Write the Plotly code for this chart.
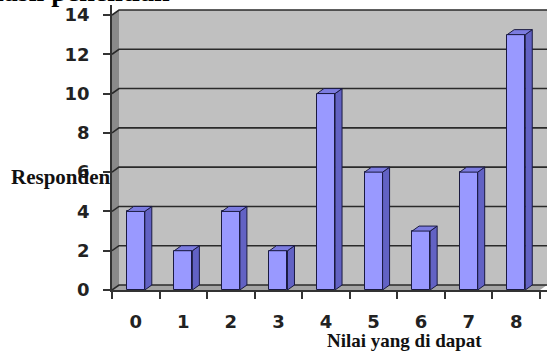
import plotly.graph_objects as go

# ---- data ----
categories = ["0", "1", "2", "3", "4", "5", "6", "7", "8"]
responden = [4, 2, 4, 2, 10, 6, 3, 6, 13]
y_ticks = [0, 2, 4, 6, 8, 10, 12, 14]
title_text = "Hasil penelitian"
y_title = "Responden"
x_title = "Nilai yang di dapat"

# ---- geometry (pixel-based depth converted to data units) ----
W, H = 547, 354
ML, MR, MT, MB = 112, 0, 5, 64
px_per_y = (290 - 15) / 14.0
plot_h = H - MT - MB
plot_w = W - ML - MR
y_max = plot_h / px_per_y
n = len(categories)
px_per_x = (plot_w - 7) / n
dxu = 7 / px_per_x
dyu = 5 / px_per_y
x_lo, x_hi = -0.5, n - 0.5 + dxu
bw = 0.38

xs = list(range(n))

fig = go.Figure()

shapes = []
# back wall
shapes.append(dict(type="rect", xref="x", yref="y", layer="below",
                   x0=-0.5 + dxu, x1=x_hi, y0=dyu, y1=y_ticks[-1] + dyu,
                   fillcolor="#C0C0C0", line=dict(width=0)))
# left wall
shapes.append(dict(type="path", xref="x", yref="y", layer="below",
                   path=f"M {-0.5},{0} L {-0.5+dxu},{dyu} L {-0.5+dxu},{y_ticks[-1]+dyu} L {-0.5},{y_ticks[-1]} Z",
                   fillcolor="#8A8A8A", line=dict(width=0)))
# floor
shapes.append(dict(type="path", xref="x", yref="y", layer="below",
                   path=f"M {-0.5},{0} L {n-0.5},{0} L {n-0.5+dxu},{dyu} L {-0.5+dxu},{dyu} Z",
                   fillcolor="#A4A4A4", line=dict(width=0)))
# gridlines across left wall and back wall
for v in y_ticks:
    shapes.append(dict(type="path", xref="x", yref="y", layer="below",
                       path=f"M {-0.5},{v} L {-0.5+dxu},{v+dyu} L {x_hi},{v+dyu}",
                       line=dict(color="#2a2a2a", width=1.6)))

# front faces of bars
fig.add_trace(go.Bar(x=xs, y=responden, width=bw,
                     marker=dict(color="#9999FF", line=dict(color="#1a1a40", width=1)),
                     hoverinfo="skip", showlegend=False))

# side and top faces
sx, sy, tx, ty = [], [], [], []
for c, v in zip(xs, responden):
    r = c + bw / 2
    l = c - bw / 2
    sx += [r, r + dxu, r + dxu, r, r, None]
    sy += [0, dyu, v + dyu, v, 0, None]
    tx += [l, r, r + dxu, l + dxu, l, None]
    ty += [v, v, v + dyu, v + dyu, v, None]
fig.add_trace(go.Scatter(x=sx, y=sy, mode="lines", fill="toself", fillcolor="#6262C4",
                         line=dict(color="#1a1a40", width=1), hoverinfo="skip", showlegend=False))
fig.add_trace(go.Scatter(x=tx, y=ty, mode="lines", fill="toself", fillcolor="#7C7CE0",
                         line=dict(color="#1a1a40", width=1), hoverinfo="skip", showlegend=False))


def px_x(p):
    return (p - ML) / plot_w


def px_y(p):
    return (H - MB - p) / plot_h


annotations = [
    dict(text=f"<b>{title_text}</b>", xref="paper", yref="paper", x=px_x(172), y=px_y(-9),
         xanchor="right", yanchor="middle", showarrow=False,
         font=dict(family="Liberation Serif", size=28, color="black")),
    dict(text=f"<b>{y_title}</b>", xref="paper", yref="paper", x=px_x(9),
         y=px_y(177), xanchor="left", yanchor="middle", showarrow=False,
         font=dict(family="Liberation Serif", size=21, color="#111")),
    dict(text=f"<b>{x_title}</b>", xref="paper", yref="paper", x=px_x(404),
         y=px_y(340), xanchor="center", yanchor="middle", showarrow=False,
         font=dict(family="Liberation Serif", size=19, color="#111")),
]

fig.update_layout(
    width=W, height=H,
    margin=dict(l=ML, r=MR, t=MT, b=MB),
    paper_bgcolor="white", plot_bgcolor="white",
    shapes=shapes, annotations=annotations,
    bargap=0,
    xaxis=dict(range=[x_lo, x_hi], tickvals=xs, ticktext=categories,
               showgrid=False, zeroline=False,
               showline=True, linecolor="#333", linewidth=1.5,
               ticks="outside", ticklen=0,
               ticklabelstandoff=15,
               tickfont=dict(family="DejaVu Sans", size=18, color="#222", weight="bold"),
               minor=dict(tickvals=[c - 0.5 for c in xs] + [n - 0.5], ticks="outside",
                          ticklen=7, tickwidth=1.5, tickcolor="#333", showgrid=False)),
    yaxis=dict(range=[0, y_max], tickvals=y_ticks, showgrid=False, zeroline=False,
               showline=True, linecolor="#333", linewidth=1.5,
               ticks="outside", ticklen=7, tickwidth=1.5, tickcolor="#333",
               ticklabelstandoff=10,
               tickfont=dict(family="DejaVu Sans", size=18, color="#222", weight="bold")),
)

fig.write_html("out.html", config={"displayModeBar": False},
               post_script="document.body.style.margin='0';")
